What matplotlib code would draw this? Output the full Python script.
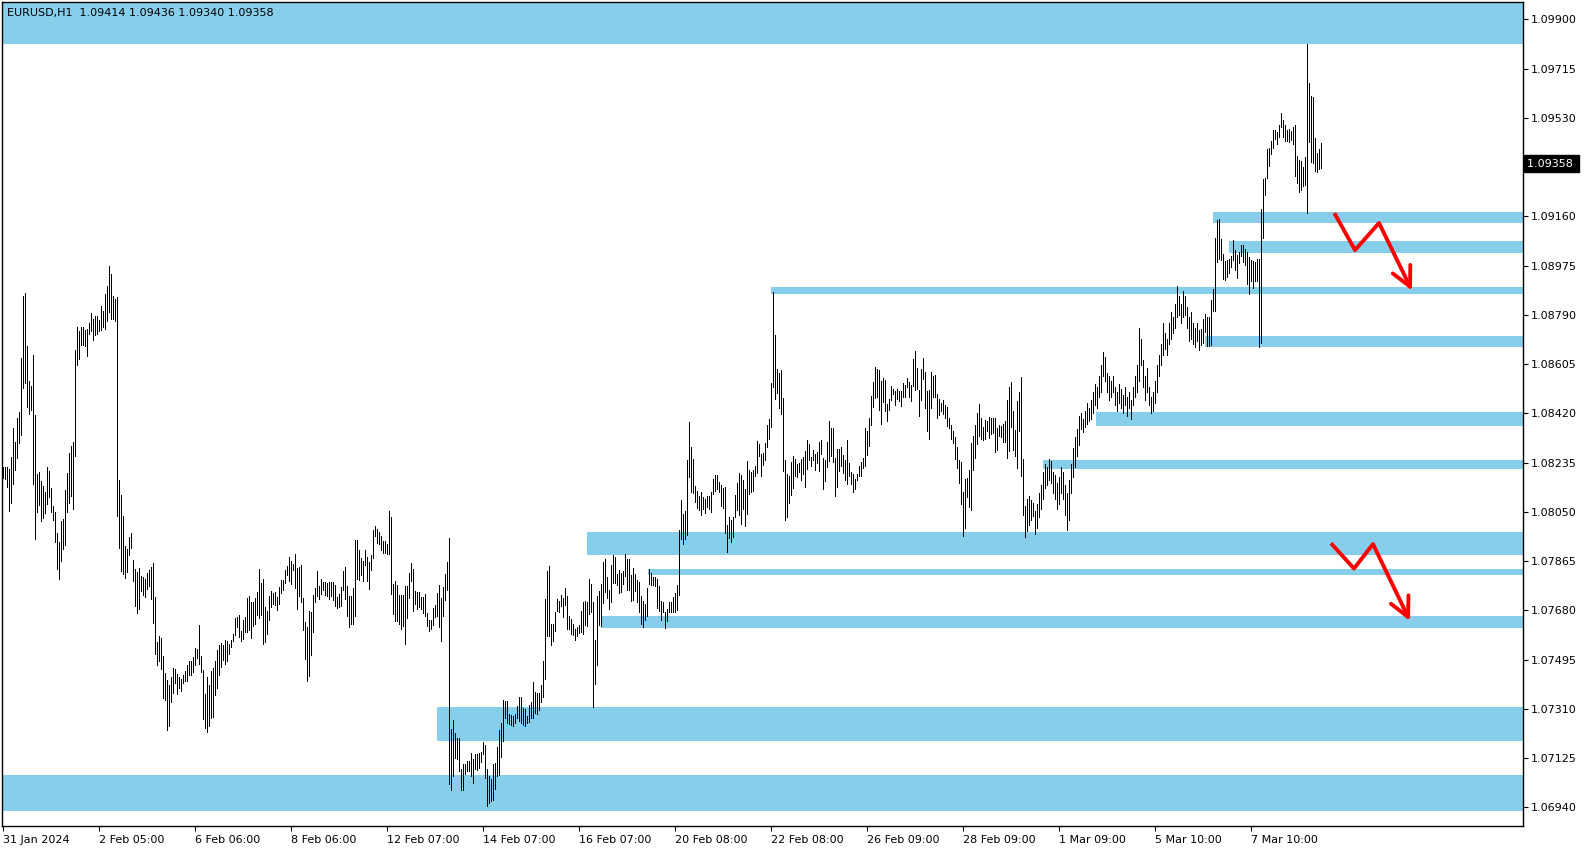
import numpy as np
import matplotlib.pyplot as plt
from matplotlib.patches import Rectangle

# EURUSD H1 bars, high / low in points (1e-5)
high_pts = [
    108219,108219,108219,108211,108256,108365,108313,108401,108424,108628,
    108861,108871,108673,108541,108523,108639,108413,108193,108200,108165,
    108148,108125,108219,108204,108139,108073,108050,107971,107938,108015,
    108024,108133,108197,108271,108298,108314,108658,108744,108729,108744,
    108744,108733,108736,108758,108795,108773,108784,108785,108770,108823,
    108806,108868,108898,108973,108943,108860,108849,108857,108169,108114,
    108035,107923,107912,107955,107971,107870,107835,107824,107839,107810,
    107806,107799,107821,107833,107844,107859,107729,107562,107585,107576,
    107508,107446,107420,107401,107429,107464,107459,107440,107431,107424,
    107439,107453,107474,107491,107489,107503,107540,107533,107624,107508,
    107456,107364,107428,107398,107451,107463,107491,107530,107550,107558,
    107549,107570,107566,107554,107570,107591,107650,107655,107663,107604,
    107645,107655,107728,107735,107710,107710,107726,107750,107836,107781,
    107798,107693,107679,107735,107754,107744,107748,107731,107768,107794,
    107795,107830,107848,107880,107864,107854,107890,107838,107841,107851,
    107728,107635,107619,107676,107675,107739,107765,107826,107770,107799,
    107785,107786,107783,107786,107786,107785,107776,107729,107740,107768,
    107826,107843,107771,107735,107733,107765,107945,107945,107905,107876,
    107866,107908,107880,107860,107889,107983,107998,107985,107974,107961,
    107941,107940,107930,108054,108031,107780,107789,107774,107736,107736,
    107736,107770,107771,107820,107859,107836,107751,107750,107750,107730,
    107730,107743,107670,107645,107643,107688,107700,107746,107774,107725,
    107768,107818,107863,107951,107236,107270,107220,107199,107201,107083,
    107101,107101,107116,107113,107145,107120,107141,107139,107145,107149,
    107186,107175,107083,107058,107045,107104,107105,107165,107229,107255,
    107345,107341,107338,107291,107286,107283,107289,107320,107355,107353,
    107314,107308,107283,107323,107335,107411,107374,107368,107370,107398,
    107488,107724,107828,107848,107629,107629,107674,107723,107716,107736,
    107726,107764,107735,107660,107648,107630,107611,107618,107626,107676,
    107711,107716,107710,107798,107779,107711,107570,107733,107751,107779,
    107860,107873,107805,107758,107851,107889,107880,107818,107833,107820,
    107829,107893,107874,107874,107814,107839,107818,107795,107785,107733,
    107714,107705,107764,107835,107820,107805,107804,107798,107770,107714,
    107710,107673,107685,107710,107711,107729,107745,107774,107983,108095,
    108043,108054,108245,108388,108295,108249,108148,108130,108110,108125,
    108106,108100,108110,108110,108125,108174,108189,108189,108163,108151,
    108140,108144,108001,108031,108021,108031,108114,108159,108196,108189,
    108170,108136,108241,108208,108201,108208,108223,108316,108305,108269,
    108271,108309,108376,108399,108534,108874,108714,108586,108571,108583,
    108478,108245,108193,108185,108238,108260,108249,108230,108235,108249,
    108256,108279,108320,108305,108256,108283,108269,108275,108313,108320,
    108253,108245,108313,108391,108366,108365,108253,108286,108286,108294,
    108264,108245,108320,108234,108200,108193,108174,108193,108223,108238,
    108253,108365,108354,108403,108485,108539,108594,108586,108583,108541,
    108554,108546,108455,108474,108523,108511,108505,108511,108504,108504,
    108533,108526,108553,108538,108525,108624,108654,108590,108508,108585,
    108626,108575,108504,108508,108575,108560,108564,108493,108474,108459,
    108470,108451,108444,108403,108376,108354,108331,108295,108245,108238,
    108125,108174,108178,108208,108309,108335,108376,108421,108454,108403,
    108369,108395,108391,108406,108403,108403,108403,108365,108376,108373,
    108380,108391,108470,108519,108538,108429,108358,108466,108500,108556,
    108249,108073,108099,108110,108095,108084,108054,108080,108120,108150,
    108200,108230,108220,108250,108240,108200,108190,108160,108180,108220,
    108200,108150,108120,108170,108230,108290,108330,108360,108410,108420,
    108400,108430,108460,108440,108470,108500,108530,108520,108560,108600,
    108650,108630,108570,108560,108540,108560,108520,108500,108530,108510,
    108490,108520,108480,108500,108470,108520,108560,108600,108740,108700,
    108620,108560,108590,108520,108480,108500,108540,108600,108640,108680,
    108760,108720,108700,108760,108800,108780,108830,108900,108860,108830,
    108880,108860,108820,108780,108800,108760,108740,108760,108733,108737,
    108773,108792,108780,108783,108846,108887,109080,109148,109149,109074,
    109018,108993,108996,108998,109011,109071,109033,109014,109027,109052,
    109052,109039,109027,109008,108996,108993,108989,108998,108999,109189,
    109302,109304,109412,109417,109442,109483,109486,109477,109504,109549,
    109523,109502,109483,109489,109481,109496,109504,109386,109371,109368,
    109346,109383,109806,109661,109611,109608,109454,109396,109414,109436,
]
low_pts = [
    108176,108174,108145,108055,108085,108156,108208,108251,108310,108339,
    108516,108535,108445,108416,108434,108154,107947,108050,108074,108014,
    108025,108045,108081,108104,108048,108020,107936,107835,107796,107865,
    107909,107925,108051,108084,108110,108059,108261,108603,108623,108675,
    108675,108674,108636,108719,108729,108695,108713,108718,108729,108733,
    108743,108736,108766,108799,108776,108774,108768,108033,107913,107827,
    107817,107802,107823,107887,107914,107790,107695,107670,107685,107751,
    107738,107730,107760,107771,107723,107633,107516,107473,107489,107459,
    107351,107345,107232,107247,107337,107368,107408,107366,107389,107376,
    107408,107414,107414,107436,107438,107448,107474,107501,107480,107449,
    107273,107239,107224,107245,107276,107281,107363,107389,107436,107469,
    107495,107480,107489,107516,107541,107564,107586,107618,107579,107564,
    107573,107599,107600,107605,107576,107620,107630,107664,107651,107664,
    107554,107560,107590,107643,107693,107705,107700,107683,107705,107746,
    107755,107783,107811,107789,107780,107833,107764,107684,107733,107711,
    107605,107496,107414,107433,107513,107599,107710,107733,107723,107741,
    107755,107736,107735,107723,107735,107720,107695,107690,107691,107698,
    107755,107721,107658,107616,107630,107628,107658,107798,107795,107814,
    107789,107851,107791,107760,107833,107876,107961,107933,107930,107905,
    107895,107895,107891,107891,107740,107666,107639,107640,107630,107609,
    107620,107555,107650,107725,107791,107676,107704,107685,107693,107686,
    107671,107658,107620,107601,107610,107626,107655,107660,107616,107564,
    107658,107718,107758,107026,107005,107058,107124,107120,107075,107005,
    107005,107064,107076,107076,107058,107033,107085,107080,107089,107111,
    107139,107050,106945,106958,106964,106968,107010,107058,107061,107129,
    107189,107274,107255,107254,107251,107245,107255,107276,107264,107255,
    107251,107245,107255,107260,107274,107276,107293,107289,107305,107335,
    107354,107424,107585,107583,107548,107564,107601,107679,107675,107698,
    107654,107701,107611,107611,107593,107588,107570,107583,107596,107599,
    107593,107625,107623,107668,107673,107316,107405,107476,107624,107623,
    107708,107748,107726,107686,107711,107781,107781,107775,107746,107748,
    107779,107810,107758,107758,107716,107718,107754,107710,107673,107629,
    107616,107644,107660,107778,107776,107775,107773,107689,107676,107645,
    107673,107614,107639,107673,107674,107673,107673,107683,107736,107949,
    107930,107949,107964,108179,108126,108120,108088,108065,108058,108040,
    108061,108044,108069,108060,108050,108118,108130,108135,108123,108071,
    108063,107970,107900,107953,107938,107956,108029,108058,108039,108005,
    108061,107995,108043,108118,108124,108130,108183,108196,108261,108185,
    108226,108245,108295,108324,108370,108519,108474,108496,108441,108418,
    108204,108021,108031,108084,108114,108140,108183,108181,108200,108170,
    108193,108144,108211,108245,108223,108245,108208,108234,108204,108268,
    108136,108166,108220,108241,108260,108239,108110,108144,108204,108223,
    108196,108170,108153,108185,108155,108123,108136,108170,108185,108185,
    108215,108223,108265,108298,108376,108445,108479,108480,108433,108380,
    108464,108429,108393,108433,108470,108493,108451,108473,108465,108448,
    108483,108480,108520,108483,108468,108524,108508,108511,108411,108470,
    108549,108440,108354,108325,108440,108481,108481,108404,108414,108429,
    108418,108404,108374,108365,108324,108310,108250,108215,108160,108080,
    107960,107989,108106,108070,108058,108209,108254,108306,108333,108324,
    108320,108325,108354,108328,108343,108345,108276,108283,108335,108331,
    108313,108313,108253,108279,108370,108283,108260,108213,108354,108185,
    108039,107954,107979,108001,108021,108035,107968,107990,108030,108060,
    108100,108140,108150,108170,108160,108120,108100,108060,108080,108120,
    108100,108040,107980,108020,108120,108180,108220,108260,108300,108360,
    108350,108370,108380,108390,108400,108420,108450,108440,108480,108500,
    108560,108540,108500,108470,108480,108500,108450,108430,108460,108440,
    108420,108450,108410,108440,108400,108450,108480,108500,108540,108600,
    108520,108470,108500,108450,108420,108430,108460,108500,108560,108600,
    108640,108660,108640,108680,108700,108720,108740,108780,108790,108760,
    108780,108790,108740,108690,108700,108680,108670,108690,108658,108677,
    108683,108727,108673,108673,108677,108806,108806,108989,108999,108996,
    108926,108921,108933,108948,108971,108996,108958,108927,108983,109010,
    108989,108977,108906,108868,108918,108889,108918,108918,108670,108683,
    109077,109239,109304,109349,109395,109417,109452,109433,109458,109496,
    109458,109442,109442,109439,109446,109433,109311,109286,109252,109258,
    109273,109277,109171,109439,109364,109362,109331,109327,109336,109340,
]

# support / resistance zones drawn on the chart (start bar, low, high)
band_start = [-0.5, 605, 613, 384, 601, 546.5, 520, 292, 322.5, 299, 217, -0.5]
band_lo = [1.09806, 1.09136, 1.09023, 1.08868, 1.08670, 1.08372, 1.08212,
           1.07888, 1.07813, 1.07615, 1.07190, 1.06927]
band_hi = [1.10100, 1.09177, 1.09068, 1.08896, 1.08710, 1.08425, 1.08245,
           1.07974, 1.07834, 1.07659, 1.07316, 1.07061]

# hand drawn red arrows (bar index, price)
arrow_a_x = [665.7, 676, 688, 704.5]
arrow_a_y = [1.09172, 1.09033, 1.09135, 1.08881]
arrow_b_x = [664, 675.5, 685, 703.5]
arrow_b_y = [1.07932, 1.07837, 1.07929, 1.07640]

y_ticks = [1.06940, 1.07125, 1.07310, 1.07495, 1.07680, 1.07865, 1.08050,
           1.08235, 1.08420, 1.08605, 1.08790, 1.08975, 1.09160, 1.09345,
           1.09530, 1.09715, 1.09900]
x_ticks = [0, 48, 96, 144, 192, 240, 288, 336, 384, 432, 480, 528, 576, 624]
x_labels = ['31 Jan 2024', '2 Feb 05:00', '6 Feb 06:00', '8 Feb 06:00',
            '12 Feb 07:00', '14 Feb 07:00', '16 Feb 07:00', '20 Feb 08:00',
            '22 Feb 08:00', '26 Feb 09:00', '28 Feb 09:00', '1 Mar 09:00',
            '5 Mar 10:00', '7 Mar 10:00']
last_close = 1.09358
header = 'EURUSD,H1  1.09414 1.09436 1.09340 1.09358'

n = min(len(high_pts), len(low_pts))
high = np.array(high_pts[:n]) / 1e5
low = np.array(low_pts[:n]) / 1e5
bars = np.arange(n)

fig = plt.figure(figsize=(15.87, 8.5), dpi=100)
ax = fig.add_axes([2/1587, 24/850, 1521/1587, 824/850])
ax.set_xlim(-0.5, 760)
ax.set_ylim(1.06870, 1.09965)

blue = '#87CEEB'
for s, lo, hi in zip(band_start, band_lo, band_hi):
    ax.add_patch(Rectangle((s, lo), 2000, hi - lo, facecolor=blue,
                           edgecolor='none', zorder=1))

ax.vlines(bars, low, high, colors='black', linewidth=0.5,
          antialiased=False, zorder=3)

for xs, ys in [(arrow_a_x, arrow_a_y), (arrow_b_x, arrow_b_y)]:
    ax.plot(xs[:-1], ys[:-1], color='red', lw=2.8, solid_capstyle='butt', zorder=4)
    ax.annotate('', xy=(xs[-1], ys[-1]), xytext=(xs[-2], ys[-2]),
                arrowprops=dict(arrowstyle='->,head_length=0.7,head_width=0.35',
                                color='red', lw=2.8, mutation_scale=20,
                                shrinkA=0, shrinkB=0),
                zorder=4)

ax.yaxis.tick_right()
ax.set_yticks(y_ticks)
# the 1.09345 label sits under the last-price box, so leave it blank
ax.set_yticklabels(['' if abs(v - 1.09345) < 1e-6 else '%.5f' % v for v in y_ticks])
ax.set_xticks(x_ticks)
ax.set_xticklabels(x_labels)
for lbl in ax.get_xticklabels():
    lbl.set_horizontalalignment('left')
ax.tick_params(axis='both', direction='out', length=3.5, width=0.8,
               labelsize=8, colors='black', pad=2)
ax.tick_params(axis='x', pad=3)
for sp in ax.spines.values():
    sp.set_linewidth(1.0)
    sp.set_color('black')

ax.text(0.0033, 0.987, header, transform=ax.transAxes, fontsize=8,
        va='center', ha='left', color='black', zorder=5)

ax.text(1.0025, last_close, '1.09358 ', transform=ax.get_yaxis_transform(),
        fontsize=8, color='white', va='center', ha='left', clip_on=False,
        bbox=dict(facecolor='black', edgecolor='black', pad=2.2), zorder=10)

fig.savefig('out.png', dpi=100, facecolor='white')
